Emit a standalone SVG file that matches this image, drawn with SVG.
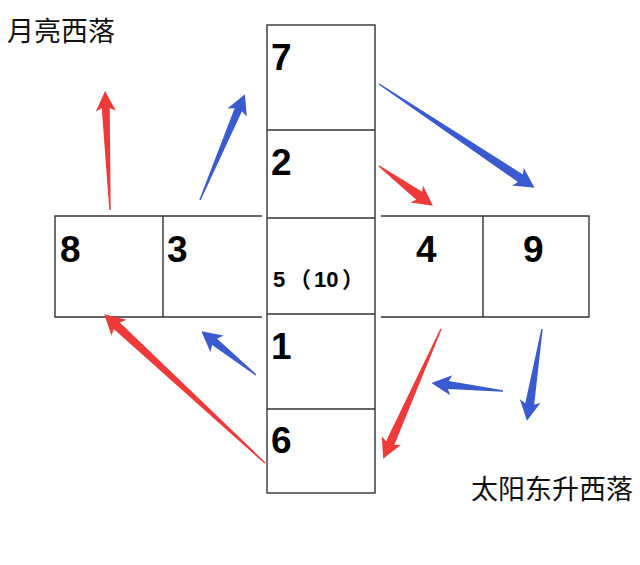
<svg xmlns="http://www.w3.org/2000/svg" width="640" height="565" viewBox="0 0 640 565">
<style>
.ln{stroke:#333;stroke-width:1.4;fill:none}
.d{font-family:"Liberation Sans",Arial,sans-serif;font-weight:bold;font-size:37px;fill:#000}
.s{font-family:"Liberation Sans","Noto Sans CJK SC",sans-serif;font-weight:bold;font-size:22px;fill:#000}
.c{font-family:"Noto Sans CJK SC",sans-serif;font-size:27px;fill:#111}
.r{fill:#f03a3a}
.b{fill:#3a5bd0}
</style>
<rect width="640" height="565" fill="#fff"/>
<g id="grid">
<g id="col">
<rect class="ln" x="267" y="25" width="108" height="468"/>
<line class="ln" x1="267" y1="130" x2="375" y2="130"/>
<line class="ln" x1="267" y1="218" x2="375" y2="218"/>
<line class="ln" x1="267" y1="314" x2="375" y2="314"/>
<line class="ln" x1="267" y1="409" x2="375" y2="409"/>
</g>
<g id="leftrow">
<polyline class="ln" points="262,216 55,216 55,317 262,317"/>
<line class="ln" x1="163" y1="216" x2="163" y2="317"/>
</g>
<g id="rightrow">
<polyline class="ln" points="381,216 589,216 589,317 381,317"/>
<line class="ln" x1="483" y1="216" x2="483" y2="317"/>
</g>
</g>
<g id="n7"><text class="d" x="271" y="70">7</text></g>
<g id="n2"><text class="d" x="271" y="175">2</text></g>
<g id="n5"><text class="s" y="287"><tspan x="273">5</tspan><tspan x="289">（</tspan><tspan x="314">10</tspan><tspan x="342">）</tspan></text></g>
<g id="n1"><text class="d" x="271" y="359">1</text></g>
<g id="n6"><text class="d" x="271" y="453">6</text></g>
<g id="n8"><text class="d" x="60" y="262">8</text></g>
<g id="n3"><text class="d" x="167" y="262">3</text></g>
<g id="n4"><text class="d" x="416" y="262">4</text></g>
<g id="n9"><text class="d" x="523" y="262">9</text></g>
<g id="labels">
<text class="c" x="7" y="41">月亮西落</text>
<text class="c" x="471" y="499">太阳东升西落</text>
</g>
<g id="connectors">
<path class="r" transform="translate(110,210) rotate(-92.4)" d="M0,-0.7 L102,-4 L99,-10 L119,0 L99,10 L102,4 L0,0.7Z"/>
<path class="b" transform="translate(200,200) rotate(-67)" d="M0,-0.7 L98,-4 L95,-10.5 L115,0 L95,10.5 L98,4 L0,0.7Z"/>
<path class="b" transform="translate(379,84) rotate(33.7)" d="M0,-0.7 L170,-4.5 L167,-10.5 L187,0 L167,10.5 L170,4.5 L0,0.7Z"/>
<path class="r" transform="translate(379,166) rotate(36.5)" d="M0,-0.7 L50,-5 L47,-10.5 L67,0 L47,10.5 L50,5 L0,0.7Z"/>
<path class="r" transform="translate(265,463) rotate(-137.2)" d="M0,-0.7 L202,-4.5 L199,-11 L219,0 L199,11 L202,4.5 L0,0.7Z"/>
<path class="b" transform="translate(256,375) rotate(-141.3)" d="M0,-0.7 L53,-4 L50,-10.5 L70,0 L50,10.5 L53,4 L0,0.7Z"/>
<path class="r" transform="translate(441,329) rotate(114)" d="M0,-0.7 L125,-4.5 L122,-10.5 L142,0 L122,10.5 L125,4.5 L0,0.7Z"/>
<path class="b" transform="translate(503,391) rotate(-173.7)" d="M0,-0.7 L55,-4 L52,-10 L72,0 L52,10 L55,4 L0,0.7Z"/>
<path class="b" transform="translate(542,329) rotate(99.3)" d="M0,-0.7 L76,-4.5 L73,-10.5 L93,0 L73,10.5 L76,4.5 L0,0.7Z"/>
</g>
</svg>
